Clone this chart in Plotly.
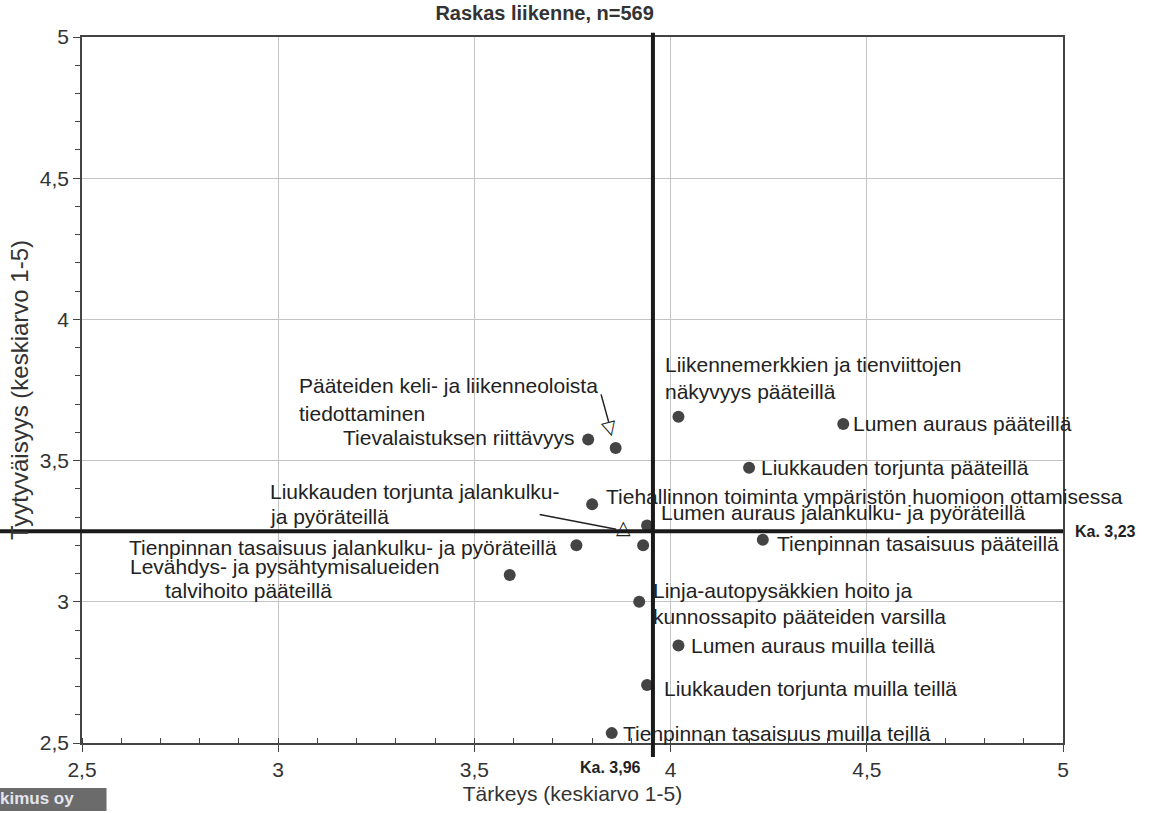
import plotly.graph_objects as go

# ---------------- data ----------------
names = [
    "Pääteiden keli- ja liikenneoloista tiedottaminen",
    "Tievalaistuksen riittävyys",
    "Liikennemerkkien ja tienviittojen näkyvyys pääteillä",
    "Lumen auraus pääteillä",
    "Liukkauden torjunta pääteillä",
    "Tiehallinnon toiminta ympäristön huomioon ottamisessa",
    "Lumen auraus jalankulku- ja pyöräteillä",
    "Liukkauden torjunta jalankulku- ja pyöräteillä",
    "Tienpinnan tasaisuus jalankulku- ja pyöräteillä",
    "Tienpinnan tasaisuus pääteillä",
    "Levähdys- ja pysähtymisalueiden talvihoito pääteillä",
    "Linja-autopysäkkien hoito ja kunnossapito pääteiden varsilla",
    "Lumen auraus muilla teillä",
    "Liukkauden torjunta muilla teillä",
    "Tienpinnan tasaisuus muilla teillä",
]
importance = [3.86, 3.79, 4.02, 4.44, 4.20, 3.80, 3.94, 3.93, 3.76, 4.235, 3.59, 3.92, 4.02, 3.94, 3.85]
satisfaction = [3.545, 3.575, 3.655, 3.63, 3.475, 3.345, 3.27, 3.20, 3.20, 3.22, 3.095, 3.00, 2.845, 2.705, 2.535]
label_lines = [
    ["Pääteiden keli- ja liikenneoloista", "tiedottaminen"],
    ["Tievalaistuksen riittävyys"],
    ["Liikennemerkkien ja tienviittojen", "näkyvyys pääteillä"],
    ["Lumen auraus pääteillä"],
    ["Liukkauden torjunta pääteillä"],
    ["Tiehallinnon toiminta ympäristön huomioon ottamisessa"],
    ["Lumen auraus jalankulku- ja pyöräteillä"],
    ["Liukkauden torjunta jalankulku-", "ja pyöräteillä"],
    ["Tienpinnan tasaisuus jalankulku- ja pyöräteillä"],
    ["Tienpinnan tasaisuus pääteillä"],
    ["Levähdys- ja pysähtymisalueiden", "talvihoito pääteillä"],
    ["Linja-autopysäkkien hoito ja", "kunnossapito pääteiden varsilla"],
    ["Lumen auraus muilla teillä"],
    ["Liukkauden torjunta muilla teillä"],
    ["Tienpinnan tasaisuus muilla teillä"],
]
avg_importance = 3.955      # position of the drawn mean line
avg_satisfaction = 3.25     # position of the drawn mean line
avg_importance_label = "Ka. 3,96"
avg_satisfaction_label = "Ka. 3,23"
title_text = "Raskas liikenne, n=569"
x_title = "Tärkeys (keskiarvo 1-5)"
y_title = "Tyytyväisyys (keskiarvo 1-5)"
axis_ticks = [2.5, 3, 3.5, 4, 4.5, 5]
logo_text = "kimus oy"

# ---------------- label placement (pixel offsets from the point) ----------------
# per point: list of (anchor, dx, dy) for each text line; dy positive = up
label_pos = [
    [("left", -319, 62), ("left", -319, 34)],
    [("right", -12, 2)],
    [("left", -15, 52), ("left", -15, 25)],
    [("left", 8, 0)],
    [("left", 10, 0)],
    [("left", 12, 8)],
    [("left", 12, 13)],
    [("left", -375, 54), ("left", -375, 29)],
    [("right", -17, -2)],
    [("left", 12, -4)],
    [("left", -382, 8), ("left", -347, -16)],
    [("left", 12, 11), ("left", 12, -15)],
    [("left", 11, 0)],
    [("left", 15, -3)],
    [("left", 9, 0)],
]
# leader arrows: point index, tip shift (dx, dy up), tail offset (ax, ay down), head glyph, glyph shift, glyph angle
leaders = [
    (0, (-7, 26), (-8, -29), "▽", (-6, 21), -15),
    (7, (-27, 16), (-78, -15), "△", (-20, 18), 0),
]

FONT = "Liberation Sans, Arial, sans-serif"
TXT = "#222222"
LABEL_SIZE = 21

fig = go.Figure()
fig.add_trace(go.Scatter(
    x=importance, y=satisfaction, mode="markers",
    marker=dict(size=12, color="#444444"),
    text=names, hoverinfo="text", showlegend=False,
))

annotations = []
for i, lines in enumerate(label_lines):
    for line, (anchor, dx, dy) in zip(lines, label_pos[i]):
        annotations.append(dict(
            x=importance[i], y=satisfaction[i], xref="x", yref="y",
            text=line, showarrow=False, xanchor=anchor, yanchor="middle",
            xshift=dx, yshift=dy, font=dict(family=FONT, size=LABEL_SIZE, color=TXT),
        ))

for idx, (tx, ty), (ax, ay), glyph, (gx, gy), ang in leaders:
    annotations.append(dict(
        x=importance[idx], y=satisfaction[idx], xref="x", yref="y",
        text="", showarrow=True, arrowhead=0, arrowwidth=1.5, arrowcolor=TXT,
        ax=ax, ay=ay, xshift=tx, yshift=ty,
    ))
    annotations.append(dict(
        x=importance[idx], y=satisfaction[idx], xref="x", yref="y",
        text=glyph, showarrow=False, xanchor="center", yanchor="middle",
        xshift=gx, yshift=gy, textangle=ang,
        font=dict(family="DejaVu Sans", size=19, color=TXT),
    ))

# average labels
annotations.append(dict(
    x=1.0, y=avg_satisfaction, xref="paper", yref="y", text="<b>" + avg_satisfaction_label + "</b>",
    showarrow=False, xanchor="left", yanchor="middle", xshift=10,
    font=dict(family=FONT, size=16, color=TXT),
))
annotations.append(dict(
    x=avg_importance, y=0, xref="x", yref="paper", text="<b>" + avg_importance_label + "</b>",
    showarrow=False, xanchor="right", yanchor="middle", xshift=-10, yshift=-24,
    font=dict(family=FONT, size=16, color=TXT),
))
# logo text
annotations.append(dict(
    x=-0.0836, y=-0.0786, xref="paper", yref="paper", text="<b>" + logo_text + "</b>",
    showarrow=False, xanchor="left", yanchor="middle", xshift=-2,
    font=dict(family=FONT, size=17, color="#e4e4ec"),
))

shapes = [
    # average lines
    dict(type="line", xref="paper", yref="y", x0=-0.0836, x1=1.0,
         y0=avg_satisfaction, y1=avg_satisfaction, line=dict(color="#1a1a1a", width=4), layer="above"),
    dict(type="line", xref="x", yref="paper", x0=avg_importance, x1=avg_importance,
         y0=-0.02, y1=1.006, line=dict(color="#1a1a1a", width=4), layer="above"),
    # logo box
    dict(type="rect", xref="paper", yref="paper", x0=-0.0836, x1=0.025, y0=-0.0637, y1=-0.0963,
         fillcolor="#6b6b6b", line=dict(width=0), layer="below"),
]

axis_common = dict(
    range=[2.5, 5], tickvals=axis_ticks, showgrid=True, gridcolor="#c4c4c4", gridwidth=1,
    showline=True, linecolor="#444444", linewidth=1.5, mirror=True, zeroline=False,
    ticks="outside", ticklen=7, tickcolor="#444444", automargin=False,
    tickfont=dict(family=FONT, size=21, color="#333333"),
)

fig.update_layout(
    width=1165, height=813,
    margin=dict(l=82, r=102, t=37, b=70, autoexpand=False),
    paper_bgcolor="white", plot_bgcolor="white",
    separators=", ",
    title=dict(text="<b>" + title_text + "</b>", x=0.4675, xanchor="center", y=0.984, yanchor="middle",
               font=dict(family=FONT, size=20, color="#333333"), automargin=False),
    annotations=annotations, shapes=shapes,
    xaxis=dict(**axis_common,
               title=dict(text=x_title, standoff=6, font=dict(family=FONT, size=21, color="#333333")),
               minor=dict(dtick=0.1, ticks="inside", ticklen=5, tickcolor="#444444", showgrid=False)),
    yaxis=dict(**axis_common,
               title=dict(text=y_title, standoff=4, font=dict(family=FONT, size=24, color="#333333")),
               minor=dict(dtick=0.1, ticks="outside", ticklen=5, tickcolor="#444444", showgrid=False)),
)

fig.write_html(
    "out.html",
    config={"displayModeBar": False},
    post_script="document.body.style.margin='0';document.body.style.padding='0';",
)
